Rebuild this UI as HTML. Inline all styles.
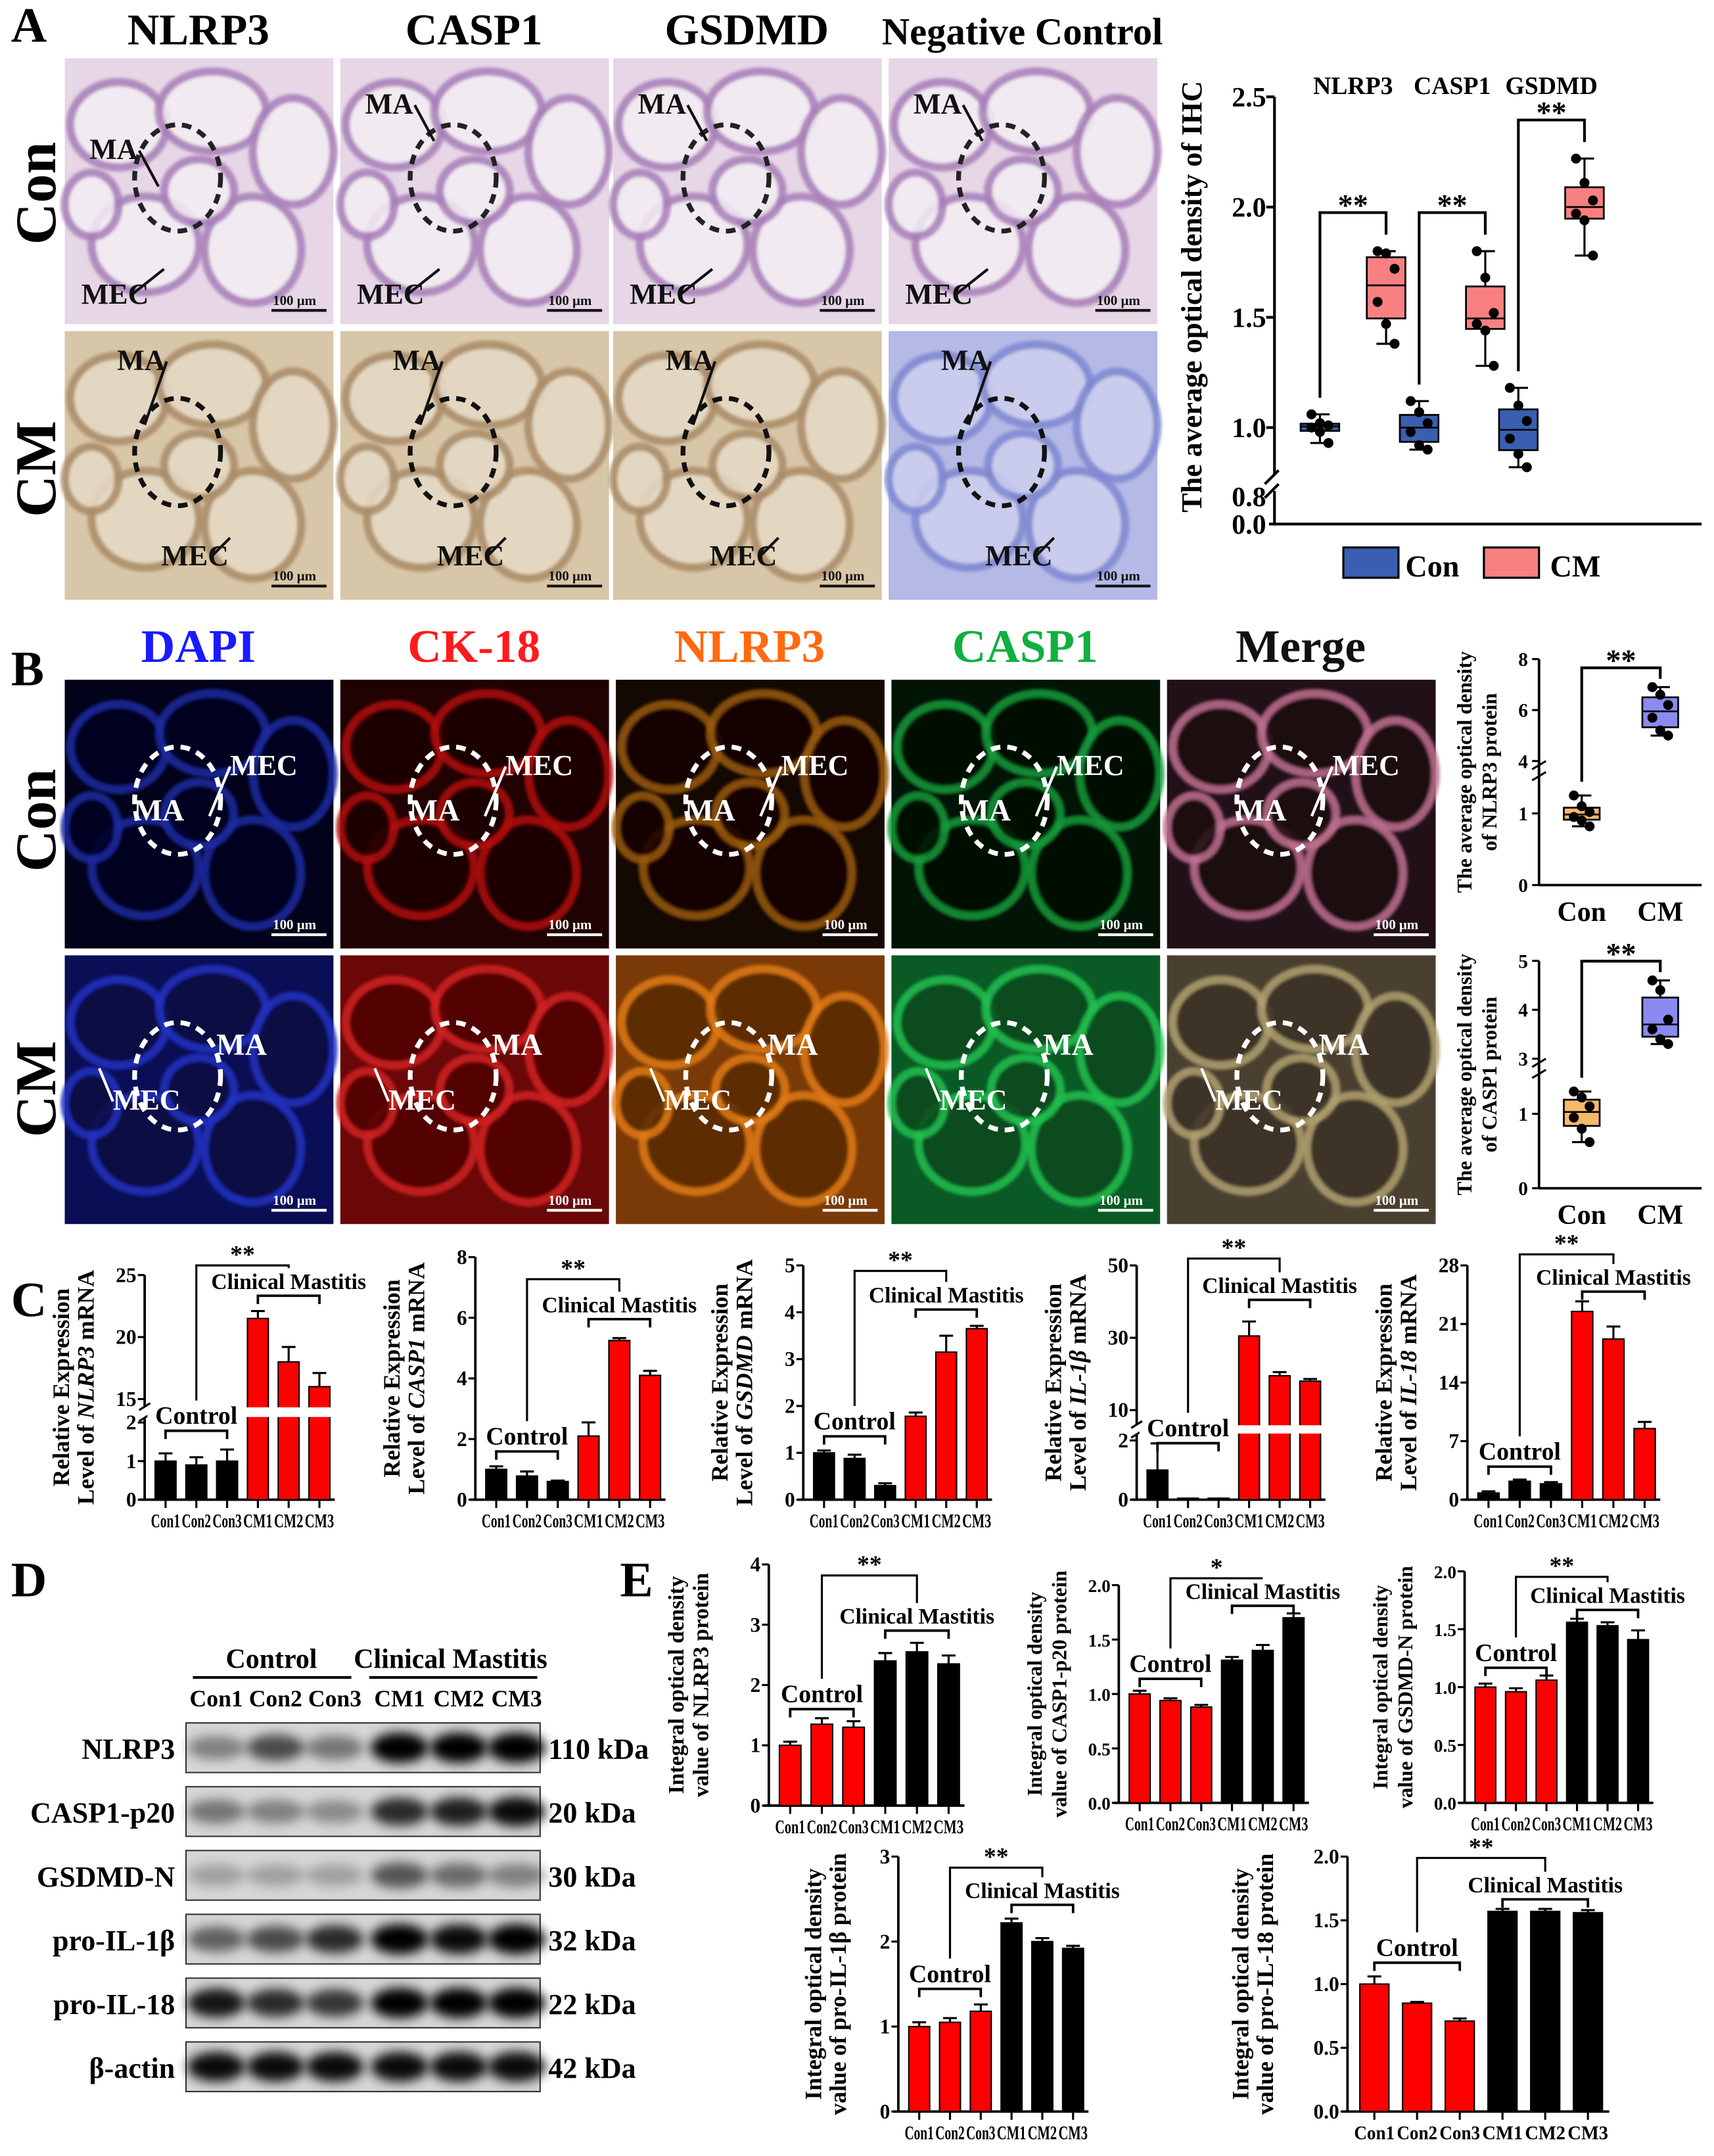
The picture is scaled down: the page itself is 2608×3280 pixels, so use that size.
<!DOCTYPE html>
<html><head><meta charset="utf-8"><style>
html,body{margin:0;padding:0;background:#fff;}
svg{display:block;}
text{font-family:"Liberation Serif",serif;font-weight:bold;}
</style></head><body>
<svg id="fig" xmlns="http://www.w3.org/2000/svg" width="2608" height="3280" viewBox="0 0 1244 1564">
<defs>
<filter id="blur" x="-20%" y="-50%" width="140%" height="200%"><feGaussianBlur stdDeviation="4"/></filter>
<filter id="blur2"><feGaussianBlur stdDeviation="1.2"/></filter>
</defs>
</svg>
<script>
// ---------- DATA ----------
const ihcGenes=["NLRP3","CASP1","GSDMD"];
const ihcCon=[[1.06,1.02,1.01,1.0,0.98,0.93],[1.12,1.07,1.02,0.98,0.92,0.9],[1.18,1.1,1.03,0.95,0.88,0.82]];
const ihcCM=[[1.8,1.79,1.72,1.57,1.47,1.38],[1.8,1.68,1.52,1.47,1.44,1.28],[2.22,2.11,2.03,1.97,1.94,1.78]];
const ihcTicks=[0,0.8,1.0,1.5,2.0,2.5];
const ihcTickLabels=["0.0","0.8","1.0","1.5","2.0","2.5"];
const ifNlrp3Con=[1.25,1.1,1.02,0.95,0.9,0.82];
const ifNlrp3CM=[6.9,6.6,6.2,5.7,5.2,5.0];
const ifCasp1Con=[1.3,1.22,1.1,0.95,0.8,0.62];
const ifCasp1CM=[4.6,4.4,3.8,3.6,3.4,3.3];
const qCats=["Con1","Con2","Con3","CM1","CM2","CM3"];
const cNlrp3=[1.0,0.9,1.0,21.5,18.0,16.0], cNlrp3Err=[0.2,0.2,0.3,0.6,1.2,1.1];
const cCasp1=[1.0,0.78,0.6,2.1,5.25,4.1], cCasp1Err=[0.1,0.15,0.03,0.45,0.08,0.15];
const cGsdmd=[1.0,0.88,0.3,1.78,3.15,3.65], cGsdmdErr=[0.05,0.08,0.05,0.08,0.35,0.06];
const cIl1b=[1.0,0.05,0.05,30.5,19.5,18.0], cIl1bErr=[0.9,0,0,4,1,0.6];
const cIl18=[0.8,2.2,1.9,22.5,19.2,8.5], cIl18Err=[0.2,0.2,0.2,1.2,1.5,0.8];
const eNlrp3=[1.0,1.35,1.3,2.4,2.55,2.35], eNlrp3Err=[0.06,0.1,0.1,0.13,0.15,0.14];
const eCasp1=[1.0,0.94,0.88,1.31,1.4,1.7], eCasp1Err=[0.03,0.02,0.02,0.03,0.05,0.04];
const eGsdmd=[1.0,0.96,1.06,1.56,1.53,1.41], eGsdmdErr=[0.03,0.03,0.04,0.03,0.03,0.08];
const eIl1b=[1.0,1.05,1.18,2.22,2.0,1.92], eIl1bErr=[0.05,0.05,0.08,0.05,0.04,0.03];
const eIl18=[1.0,0.85,0.71,1.57,1.57,1.56], eIl18Err=[0.06,0.01,0.02,0.02,0.02,0.02];
const blotRows=["NLRP3","CASP1-p20","GSDMD-N","pro-IL-1β","pro-IL-18","β-actin"];
const blotKda=["110 kDa","20 kDa","30 kDa","32 kDa","22 kDa","42 kDa"];
const blotIntensity=[[0.4,0.65,0.45,1,1,1],[0.45,0.4,0.35,0.8,0.85,0.95],[0.25,0.25,0.25,0.6,0.5,0.4],[0.55,0.65,0.8,1,0.95,1],[0.9,0.8,0.75,1,1,1],[0.95,0.95,0.95,0.95,0.95,0.95]];

// ---------- HELPERS ----------
const NS="http://www.w3.org/2000/svg";
const svg=document.getElementById('fig');
function mk(tag,a,p){const e=document.createElementNS(NS,tag);for(const k in a)e.setAttribute(k,a[k]);(p||svg).appendChild(e);return e;}
function tx(s,x,y,size,p,extra){const a=Object.assign({x:x,y:y,'font-size':size},extra||{});const e=mk('text',a,p);e.textContent=s;return e;}
function scaleOf(segs){return v=>{for(let i=0;i<segs.length;i++){const s=segs[i];if(v<=s.v1||i===segs.length-1){const vv=Math.max(v,s.v0);return s.p0+(vv-s.v0)/(s.v1-s.v0)*(s.p1-s.p0);}}};}
function quart(arr){const a=[...arr].sort((x,y)=>x-y);const q=p=>{const i=(a.length-1)*p,l=Math.floor(i);return a[l]+(a[Math.min(l+1,a.length-1)]-a[l])*(i-l);};return [a[0],q(0.25),q(0.5),q(0.75),a[a.length-1]];}

[["A",8,30],["B",8,497],["C",8,955],["D",8,1158],["E",450,1158]].forEach(d=>{
 const t=tx(d[0],d[1],d[2],36);
 
 
});

// ---------- MICROGRAPH TILES ----------
const blobs=[[0.2,0.25,0.18,0.16],[0.55,0.2,0.2,0.15],[0.85,0.35,0.15,0.2],[0.3,0.7,0.2,0.18],[0.7,0.72,0.18,0.2],[0.1,0.55,0.1,0.12],[0.5,0.5,0.13,0.12]];
function tile(x,y,w,h,bg,line,fillc,name,dash,scaleTxt){
 const g=mk('g',{});
 
 
 mk('rect',{x:x,y:y,width:w,height:h,fill:bg},g);
 blobs.forEach(b=>{mk('ellipse',{cx:x+b[0]*w,cy:y+b[1]*h,rx:b[2]*w,ry:b[3]*h,fill:fillc,stroke:line,'stroke-width':6,opacity:0.85,filter:'url(#blur2)'},g);});
 mk('ellipse',{cx:x+w*0.42,cy:y+h*0.45,rx:w*0.16,ry:h*0.2,fill:'none',stroke:dash,'stroke-width':3.5,'stroke-dasharray':'7 5'},g);
 mk('line',{x1:x+w-45,y1:y+h-10,x2:x+w-5,y2:y+h-10,stroke:scaleTxt,'stroke-width':2},g);
 tx('100 μm',x+w-44,y+h-14,10,g,{fill:scaleTxt});
 return g;
}
function lbl(s,x,y,c,ax,ay,g){tx(s,x,y,21,g,{fill:c});mk('line',{x1:x+(ax>0?36:0),y1:y-6,x2:x+ax,y2:y+ay,stroke:c,'stroke-width':2},g);}
const aHead=["NLRP3","CASP1","GSDMD","Negative Control"];
const aX=[47,247,445,645];
aHead.forEach((h,i)=>{const t=tx(h,aX[i]+97,32,i===3?28:32,null,{'text-anchor':'middle'});
 
 });
[["Con",140],["CM",340]].forEach(r=>{const t=tx(r[0],0,0,42,null,{transform:`translate(40,${r[1]}) rotate(-90)`,'text-anchor':'middle'});
 
 });
aX.forEach((x,i)=>{
 const g1=tile(x,42,195,193,'#e6d6e6','#a77fb8','#f4eef4','ihc-con-tile','#222','#111');
 lbl('MA',x+18,i===0?115:82,'#111',50,20,g1);lbl('MEC',x+12,220,'#111',60,-25,g1);
 const neg=i===3;
 const g2=tile(x,240,195,195,neg?'#b4b9e6':'#d8c6a8',neg?'#7f88d0':'#aa8c68',neg?'#cdd0ee':'#e6dac6','ihc-cm-tile','#111','#111');
 lbl('MA',x+38,268,'#111',20,40,g2);lbl('MEC',x+70,410,'#111',50,-20,g2);
});
const bHead=[["DAPI","#1a1aff"],["CK-18","#ff1a1a"],["NLRP3","#ff6a10"],["CASP1","#10b040"],["Merge","#111"]];
const bX=[47,247,447,647,847];
const bCon=[['#02031a','#1a2aa0','#030522'],['#200202','#b01010','#1a0202'],['#140802','#9a5a10','#120602'],['#021405','#129a3a','#021005'],['#221018','#c07090','#1a0a10']];
const bCM=[['#0a0f55','#2030c0','#080a40'],['#6a0808','#d02020','#500505'],['#7a3a08','#e07a18','#5a2a05'],['#0a5a25','#20c050','#084a1e'],['#4a4030','#b0a070','#3a3025']];
bHead.forEach((h,i)=>{const t=tx(h[0],bX[i]+97,480,34,null,{'text-anchor':'middle',fill:h[1]});
 
 
 const g1=tile(bX[i],493,195,195,bCon[i][0],bCon[i][1],bCon[i][2],'if-con-tile','#fff','#fff');
 tx('MA',bX[i]+50,595,22,g1,{fill:'#fff'});lbl('MEC',bX[i]+120,562,'#fff',-15,30,g1);
 const g2=tile(bX[i],693,195,195,bCM[i][0],bCM[i][1],bCM[i][2],'if-cm-tile','#fff','#fff');
 tx('MA',bX[i]+110,765,22,g2,{fill:'#fff'});lbl('MEC',bX[i]+35,805,'#fff',-10,-30,g2);
});
[["Con",595],["CM",790]].forEach(r=>{const t=tx(r[0],0,0,42,null,{transform:`translate(40,${r[1]}) rotate(-90)`,'text-anchor':'middle'});
 
 });

// ---------- BOX PLOTS ----------
function box(g,cx,w,pts,sc,fill){
 const q=quart(pts);
 mk('line',{x1:cx,y1:sc(q[0]),x2:cx,y2:sc(q[4]),stroke:'#000','stroke-width':1.5},g);
 [q[0],q[4]].forEach(v=>mk('line',{x1:cx-7,x2:cx+7,y1:sc(v),y2:sc(v),stroke:'#000','stroke-width':1.5},g));
 const r=mk('rect',{x:cx-w/2,y:sc(q[3]),width:w,height:sc(q[1])-sc(q[3]),fill:fill,stroke:'#000','stroke-width':1.3},g);
 
 
 mk('line',{x1:cx-w/2,x2:cx+w/2,y1:sc(q[2]),y2:sc(q[2]),stroke:'#000','stroke-width':1.3},g);
 pts.forEach((v,i)=>{const c=mk('circle',{cx:cx+((i%3)-1)*w*0.22,cy:sc(v),r:3.6,fill:'#000'},g);
  
  });
}
function sigBracket(g,x1,x2,ytop,y1,y2,s){mk('polyline',{points:`${x1},${y1} ${x1},${ytop} ${x2},${ytop} ${x2},${y2}`,fill:'none',stroke:'#000','stroke-width':2},g);
 tx(s,(x1+x2)/2,ytop+2,22,g,{'text-anchor':'middle'});}
(function(){
 const g=mk('g',{});
 
 
 const sc=scaleOf([{v0:0,v1:0.8,p0:380,p1:360},{v0:0.8,v1:2.5,p0:342,p1:70}]);
 const ax=925;
 mk('line',{x1:ax,y1:70,x2:ax,y2:344,stroke:'#000','stroke-width':2},g);
 mk('line',{x1:ax,y1:356,x2:ax,y2:381,stroke:'#000','stroke-width':2},g);
 mk('line',{x1:ax-7,y1:351,x2:ax+3,y2:341,stroke:'#000','stroke-width':2},g);
 mk('line',{x1:ax-7,y1:361,x2:ax+3,y2:351,stroke:'#000','stroke-width':2},g);
 mk('line',{x1:ax-4,y1:380,x2:1235,y2:380,stroke:'#000','stroke-width':2},g);
 ihcTicks.forEach((v,i)=>{if(v>=1)mk('line',{x1:ax-6,x2:ax,y1:sc(v),y2:sc(v),stroke:'#000','stroke-width':2},g);
  const t=tx(ihcTickLabels[i],ax-6,sc(v)+7,20,g,{'text-anchor':'end'});
  
  });
 const yl=tx('The average optical density of IHC',0,0,21,g,{transform:'translate(872,215) rotate(-90)','text-anchor':'middle'});
 
 
 ihcGenes.forEach((gn,i)=>{
  const c=ax+57+i*72;const xc=c-24,xm=c+24;
  box(g,xc,28,ihcCon[i],sc,'#3a5fb0');box(g,xm,28,ihcCM[i],sc,'#f88080');
  tx(gn,c,68,18,g,{'text-anchor':'middle'});
  const top=sc(Math.max(...ihcCM[i]))-28;
  sigBracket(g,xc,xm,top,sc(Math.max(...ihcCon[i]))-12,top+16,'**');
 });
 const l1=mk('rect',{x:975,y:397,width:40,height:22,fill:'#3a5fb0',stroke:'#000','stroke-width':1.5},g);
 
 
 tx('Con',1020,418,22,g);
 const l2=mk('rect',{x:1077,y:397,width:40,height:22,fill:'#f88080',stroke:'#000','stroke-width':1.5},g);
 
 
 tx('CM',1125,418,22,g);
})();
function ifBox(name,segs,ticks,tickLab,conPts,cmPts,ylab1,ylab2,bY0,bY1){
 const g=mk('g',{});
 
 
 const sc=scaleOf(segs);const ax=1117;
 mk('line',{x1:ax,y1:segs[1].p1,x2:ax,y2:bY0,stroke:'#000','stroke-width':1.8},g);
 mk('line',{x1:ax,y1:bY1,x2:ax,y2:segs[0].p0,stroke:'#000','stroke-width':1.8},g);
 mk('line',{x1:ax-5,y1:bY0+4,x2:ax+5,y2:bY0-2,stroke:'#000','stroke-width':1.5},g);
 mk('line',{x1:ax-5,y1:bY1+2,x2:ax+5,y2:bY1-4,stroke:'#000','stroke-width':1.5},g);
 mk('line',{x1:ax,y1:segs[0].p0,x2:1235,y2:segs[0].p0,stroke:'#000','stroke-width':1.8},g);
 ticks.forEach((v,i)=>{mk('line',{x1:ax-5,x2:ax,y1:sc(v),y2:sc(v),stroke:'#000','stroke-width':1.5},g);
  const t=tx(tickLab[i],ax-8,sc(v)+5,14,g,{'text-anchor':'end'});
  
  });
 box(g,1148,26,conPts,sc,'#f5b96b');box(g,1205,26,cmPts,sc,'#8a8af0');
 const top=sc(Math.max(...cmPts))-14;
 sigBracket(g,1148,1205,top,sc(Math.max(...conPts))-10,top+8,'**');
 tx('Con',1148,segs[0].p0+26,20,g,{'text-anchor':'middle'});tx('CM',1205,segs[0].p0+26,20,g,{'text-anchor':'middle'});
 const mid=(segs[0].p0+segs[1].p1)/2;
 tx(ylab1,0,0,15,g,{transform:`translate(1068,${mid}) rotate(-90)`,'text-anchor':'middle'});
 tx(ylab2,0,0,15,g,{transform:`translate(1086,${mid}) rotate(-90)`,'text-anchor':'middle'});
}
ifBox('if-nlrp3-boxplot',[{v0:0,v1:1.5,p0:642,p1:564},{v0:4,v1:8,p0:552,p1:478}],[0,1,4,6,8],["0","1","4","6","8"],ifNlrp3Con,ifNlrp3CM,'The average optical density','of NLRP3 protein',562,556);
ifBox('if-casp1-boxplot',[{v0:0,v1:1.5,p0:862,p1:781},{v0:3,v1:5,p0:768,p1:697}],[0,1,3,4,5],["0","1","3","4","5"],ifCasp1Con,ifCasp1CM,'The average optical density','of CASP1 protein',778,772);

// ---------- BAR CHARTS ----------
function barChart(c){
 const g=mk('g',{});
 
 
 const sc=scaleOf(c.segs);const ax=c.ax,x1=c.x1;
 const bottom=c.segs[0].p0,top=c.segs[c.segs.length-1].p1;
 if(c.brk){mk('line',{x1:ax,y1:top,x2:ax,y2:c.brk[0],stroke:'#000','stroke-width':1.8},g);mk('line',{x1:ax,y1:c.brk[1],x2:ax,y2:bottom,stroke:'#000','stroke-width':1.8},g);
  mk('line',{x1:ax-4,y1:c.brk[0]+3,x2:ax+4,y2:c.brk[0]-2,stroke:'#000','stroke-width':1.5},g);mk('line',{x1:ax-4,y1:c.brk[1]+2,x2:ax+4,y2:c.brk[1]-3,stroke:'#000','stroke-width':1.5},g);}
 else mk('line',{x1:ax,y1:top,x2:ax,y2:bottom,stroke:'#000','stroke-width':1.8},g);
 mk('line',{x1:ax-4,y1:bottom,x2:x1,y2:bottom,stroke:'#000','stroke-width':1.8},g);
 c.ticks.forEach((v,i)=>{mk('line',{x1:ax-5,x2:ax,y1:sc(v),y2:sc(v),stroke:'#000','stroke-width':1.5},g);
  const t=tx(c.tickLab[i],ax-6,sc(v)+5,c.fs||15,g,{'text-anchor':'end'});
  
  });
 const band=(x1-ax-4)/6,bw=band*0.68;
 const cx=i=>ax+4+band*(i+0.5);
 c.vals.forEach((v,i)=>{
  const r=mk('rect',{x:cx(i)-bw/2,y:sc(v),width:bw,height:bottom-sc(v),fill:c.colors[i],stroke:'#000','stroke-width':1},g);
  
  
  const e=c.errs[i];
  if(e>0){mk('line',{x1:cx(i),x2:cx(i),y1:sc(v),y2:sc(v+e),stroke:'#000','stroke-width':1.5},g);
   mk('line',{x1:cx(i)-5,x2:cx(i)+5,y1:sc(v+e),y2:sc(v+e),stroke:'#000','stroke-width':1.5},g);}
  mk('line',{x1:cx(i),x2:cx(i),y1:bottom,y2:bottom+6,stroke:'#000','stroke-width':1.5},g);
  const t=tx(qCats[i],cx(i),bottom+20,14,g,{'text-anchor':'middle',textLength:band*0.95,lengthAdjust:'spacingAndGlyphs'});
  
  
 });
 if(c.brk){mk('rect',{x:ax+2,y:c.brk[0]+1,width:x1-ax-2,height:c.brk[1]-c.brk[0]-2,fill:'#fff'},g);}
 const cc=(cx(0)+cx(2))/2,mc=(cx(3)+cx(5))/2;
 mk('polyline',{points:`${cx(0)},${c.ctrlY+6} ${cx(0)},${c.ctrlY} ${cx(2)},${c.ctrlY} ${cx(2)},${c.ctrlY+6}`,fill:'none',stroke:'#000','stroke-width':1.8},g);
 tx('Control',cc,c.ctrlY-5,18,g,{'text-anchor':'middle'});
 mk('polyline',{points:`${cx(3)},${c.cmY+6} ${cx(3)},${c.cmY} ${cx(5)},${c.cmY} ${cx(5)},${c.cmY+6}`,fill:'none',stroke:'#000','stroke-width':1.8},g);
 tx('Clinical Mastitis',mc,c.cmY-5,16,g,{'text-anchor':'middle'});
 mk('polyline',{points:`${cc},${c.ctrlY-22} ${cc},${c.topY} ${mc},${c.topY} ${mc},${c.cmY-20}`,fill:'none',stroke:'#000','stroke-width':1.5},g);
 tx(c.sig,(cc+mc)/2,c.topY-2,18,g,{'text-anchor':'middle'});
 const mid=(top+bottom)/2;
 const l1=tx(c.yl1,0,0,c.yfs||17,g,{transform:`translate(${ax-c.yoff},${mid}) rotate(-90)`,'text-anchor':'middle'});
 
 
 const l2=mk('text',{transform:`translate(${ax-c.yoff+18},${mid}) rotate(-90)`,'text-anchor':'middle','font-size':c.yfs||17},g);
 const p=c.yl2;
 const s1=mk('tspan',{},l2);s1.textContent=p[0];
 if(p[1]){const s2=mk('tspan',{'font-style':'italic'},l2);s2.textContent=p[1];}
 if(p[2]){const s3=mk('tspan',{},l2);s3.textContent=p[2];}
}
const blk='#000',red='#f00';
const cCols=[blk,blk,blk,red,red,red],eCols=[red,red,red,blk,blk,blk];
barChart({name:'qpcr-nlrp3-chart',ax:105,x1:243,segs:[{v0:0,v1:2,p0:1088,p1:1032},{v0:15,v1:25,p0:1015,p1:925}],brk:[1020,1029],ticks:[0,1,2,15,20,25],tickLab:["0","1","2","15","20","25"],vals:cNlrp3,errs:cNlrp3Err,colors:cCols,ctrlY:1038,cmY:940,topY:918,sig:'**',yl1:'Relative Expression',yl2:['Level of ','NLRP3',' mRNA'],yoff:55});
barChart({name:'qpcr-casp1-chart',ax:345,x1:483,segs:[{v0:0,v1:8,p0:1088,p1:912}],ticks:[0,2,4,6,8],tickLab:["0","2","4","6","8"],vals:cCasp1,errs:cCasp1Err,colors:cCols,ctrlY:1053,cmY:957,topY:928,sig:'**',yl1:'Relative Expression',yl2:['Level of ','CASP1',' mRNA'],yoff:55});
barChart({name:'qpcr-gsdmd-chart',ax:583,x1:720,segs:[{v0:0,v1:5,p0:1088,p1:918}],ticks:[0,1,2,3,4,5],tickLab:["0","1","2","3","4","5"],vals:cGsdmd,errs:cGsdmdErr,colors:cCols,ctrlY:1042,cmY:950,topY:922,sig:'**',yl1:'Relative Expression',yl2:['Level of ','GSDMD',' mRNA'],yoff:55});
barChart({name:'qpcr-il1b-chart',ax:825,x1:962,segs:[{v0:0,v1:2,p0:1088,p1:1045},{v0:10,v1:50,p0:1023,p1:918}],brk:[1033,1041],ticks:[0,2,10,30,50],tickLab:["0","2","10","30","50"],vals:cIl1b,errs:cIl1bErr,colors:cCols,ctrlY:1047,cmY:943,topY:913,sig:'**',yl1:'Relative Expression',yl2:['Level of ','IL-1β',' mRNA'],yoff:55});
barChart({name:'qpcr-il18-chart',ax:1065,x1:1205,segs:[{v0:0,v1:28,p0:1088,p1:918}],ticks:[0,7,14,21,28],tickLab:["0","7","14","21","28"],vals:cIl18,errs:cIl18Err,colors:cCols,ctrlY:1064,cmY:937,topY:910,sig:'**',yl1:'Relative Expression',yl2:['Level of ','IL-18',' mRNA'],yoff:55});
const h1=["0.0","0.5","1.0","1.5","2.0"];
barChart({name:'wb-nlrp3-chart',ax:558,x1:700,segs:[{v0:0,v1:4,p0:1310,p1:1135}],ticks:[0,1,2,3,4],tickLab:["0","1","2","3","4"],vals:eNlrp3,errs:eNlrp3Err,colors:eCols,ctrlY:1240,cmY:1183,topY:1143,sig:'**',yl1:'Integral optical density',yl2:['value of NLRP3 protein'],yoff:62,yfs:16});
barChart({name:'wb-casp1-chart',ax:812,x1:950,segs:[{v0:0,v1:2,p0:1308,p1:1150}],ticks:[0,0.5,1,1.5,2],tickLab:h1,vals:eCasp1,errs:eCasp1Err,colors:eCols,ctrlY:1218,cmY:1165,topY:1145,sig:'*',yl1:'Integral optical density',yl2:['value of CASP1-p20 protein'],yoff:56,yfs:15,fs:13});
barChart({name:'wb-gsdmd-chart',ax:1063,x1:1200,segs:[{v0:0,v1:2,p0:1308,p1:1140}],ticks:[0,0.5,1,1.5,2],tickLab:h1,vals:eGsdmd,errs:eGsdmdErr,colors:eCols,ctrlY:1210,cmY:1168,topY:1144,sig:'**',yl1:'Integral optical density',yl2:['value of GSDMD-N protein'],yoff:56,yfs:15,fs:13});
barChart({name:'wb-il1b-chart',ax:652,x1:790,segs:[{v0:0,v1:3,p0:1532,p1:1347}],ticks:[0,1,2,3],tickLab:["0","1","2","3"],vals:eIl1b,errs:eIl1bErr,colors:eCols,ctrlY:1443,cmY:1382,topY:1355,sig:'**',yl1:'Integral optical density',yl2:['value of pro-IL-1β protein'],yoff:56,yfs:17});
barChart({name:'wb-il18-chart',ax:978,x1:1168,segs:[{v0:0,v1:2,p0:1532,p1:1347}],ticks:[0,0.5,1,1.5,2],tickLab:h1,vals:eIl18,errs:eIl18Err,colors:eCols,ctrlY:1424,cmY:1378,topY:1348,sig:'**',yl1:'Integral optical density',yl2:['value of pro-IL-18 protein'],yoff:72,yfs:17});

// ---------- WESTERN BLOT ----------
(function(){
 const g=mk('g',{});
 
 
 const lanes=[157,200,243,290,333,375];
 tx('Control',197,1210,20,g,{'text-anchor':'middle'});
 mk('line',{x1:140,x2:255,y1:1217,y2:1217,stroke:'#000','stroke-width':2},g);
 tx('Clinical Mastitis',327,1210,20,g,{'text-anchor':'middle'});
 mk('line',{x1:268,x2:390,y1:1217,y2:1217,stroke:'#000','stroke-width':2},g);
 qCats.forEach((c,i)=>tx(c,lanes[i],1238,17,g,{'text-anchor':'middle'}));
 blotRows.forEach((r,j)=>{
  const y=1250+j*46.3;
  const rr=mk('rect',{x:135,y:y,width:257,height:36,fill:'#d6d6d6',stroke:'#333','stroke-width':1},g);
  
  
  blotIntensity[j].forEach((v,i)=>{const b=mk('ellipse',{cx:lanes[i],cy:y+18,rx:21,ry:7+4*v,fill:'#000',opacity:v,filter:'url(#blur)'},g);
   
   });
  tx(r,127,y+26,21,g,{'text-anchor':'end'});
  tx(blotKda[j],398,y+26,21,g);
 });
})();
</script>
</body></html>
